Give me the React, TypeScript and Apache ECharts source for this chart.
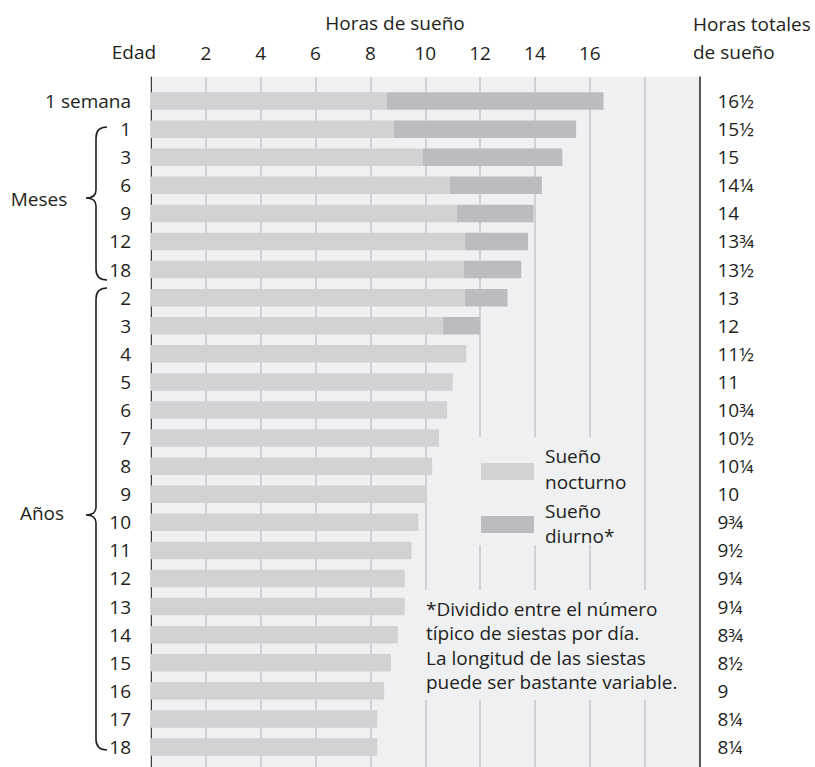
import React, { useEffect, useRef } from "react";
import * as echarts from "echarts";

const ageKeys = [
  "w1", "m1", "m3", "m6", "m9", "m12", "m18",
  "y2", "y3", "y4", "y5", "y6", "y7", "y8", "y9", "y10",
  "y11", "y12", "y13", "y14", "y15", "y16", "y17", "y18",
];
const ageLabels = [
  "1 semana", "1", "3", "6", "9", "12", "18",
  "2", "3", "4", "5", "6", "7", "8", "9", "10",
  "11", "12", "13", "14", "15", "16", "17", "18",
];
const nightHours = [
  8.6, 8.85, 9.9, 10.9, 11.15, 11.45, 11.4,
  11.45, 10.65, 11.5, 11, 10.8, 10.5, 10.25, 10, 9.75,
  9.5, 9.25, 9.25, 9, 8.75, 8.5, 8.25, 8.25,
];
const dayHours = [
  7.9, 6.65, 5.1, 3.35, 2.8, 2.3, 2.1,
  1.55, 1.35, 0, 0, 0, 0, 0, 0, 0,
  0, 0, 0, 0, 0, 0, 0, 0,
];
const totalLabels = [
  "16½", "15½", "15", "14¼", "14", "13¾", "13½",
  "13", "12", "11½", "11", "10¾", "10½", "10¼", "10", "9¾",
  "9½", "9¼", "9¼", "8¾", "8½", "9", "8¼", "8¼",
];
const hourTicks = [2, 4, 6, 8, 10, 12, 14, 16];
const footnoteLines = [
  "*Dividido entre el número",
  "típico de siestas por día.",
  "La longitud de las siestas",
  "puede ser bastante variable.",
];

const FONT = "'Open Sans', 'Noto Sans', sans-serif";
const TXT = "#231f20";
const BG = "#eff0f2";
const NIGHT = "#d1d2d4";
const DAY = "#bbbcbf";
const GRIDC = "#c9cacc";

let registered = false;
function registerBraces() {
  if (registered) return;
  registered = true;
  const meses =
    "M107,127 Q96,127 96,138 L96,190 Q96,198 86,198 Q96,198 96,206 L96,269 Q96,280 107,280";
  const anos =
    "M107,288 Q96,288 96,299 L96,507 Q96,515 86,515 Q96,515 96,523 L96,739 Q96,750 107,750";
  echarts.graphic.registerShape("braceMeses", echarts.graphic.extendPath(meses, {}));
  echarts.graphic.registerShape("braceAnos", echarts.graphic.extendPath(anos, {}));
}

export default function App() {
  const ref = useRef<HTMLDivElement>(null);
  useEffect(() => {
    if (!ref.current) return;
    registerBraces();
    const chart = echarts.init(ref.current, undefined, { renderer: "svg" });
    const txt = (text: string, x: number, y: number, align = "left", size = 19, z = 110) => ({
      type: "text",
      x,
      y,
      z,
      style: {
        text,
        fill: TXT,
        font: `${size}px ${FONT}`,
        textAlign: align,
        textVerticalAlign: "middle",
      },
    });
    const option: any = {
      animation: false,
      textStyle: { fontFamily: FONT },
      grid: [
        { left: 151, right: 115.5, top: 77, bottom: 0, show: true, backgroundColor: BG, borderWidth: 0 },
        { left: 151, right: 115.5, top: 87, bottom: 6 },
      ],
      xAxis: [
        {
          gridIndex: 0,
          type: "value",
          position: "top",
          min: 0,
          max: 20,
          interval: 2,
          axisLine: { show: false },
          axisTick: { show: false },
          axisLabel: {
            show: true,
            margin: 15,
            fontSize: 19,
            color: TXT,
            fontFamily: FONT,
            formatter: (v: number) => (hourTicks.indexOf(v) >= 0 ? String(v) : ""),
          },
          splitLine: { show: true, lineStyle: { color: GRIDC, width: 1.6 } },
        },
        { gridIndex: 1, type: "value", min: 0, max: 20, show: false },
      ],
      yAxis: [
        {
          gridIndex: 0,
          type: "value",
          position: "left",
          min: 0,
          max: 1,
          axisLine: { show: true, lineStyle: { color: "#3a3a3a", width: 1 } },
          axisTick: { show: false },
          axisLabel: { show: false },
          splitLine: { show: false },
        },
        {
          gridIndex: 0,
          type: "value",
          position: "right",
          min: 0,
          max: 1,
          axisLine: { show: true, lineStyle: { color: "#3a3a3a", width: 1.6 } },
          axisTick: { show: false },
          axisLabel: { show: false },
          splitLine: { show: false },
        },
        {
          gridIndex: 1,
          type: "category",
          inverse: true,
          data: ageKeys,
          position: "left",
          axisLine: { show: false },
          axisTick: { show: false },
          axisLabel: {
            interval: 0,
            margin: 20,
            fontSize: 19,
            color: TXT,
            fontFamily: FONT,
            formatter: (_v: string, i: number) => ageLabels[i],
          },
        },
        {
          gridIndex: 1,
          type: "category",
          inverse: true,
          data: ageKeys,
          position: "right",
          axisLine: { show: false },
          axisTick: { show: false },
          axisLabel: {
            interval: 0,
            margin: 18,
            fontSize: 19,
            color: TXT,
            fontFamily: FONT,
            formatter: (_v: string, i: number) => totalLabels[i],
          },
        },
      ],
      series: [
        {
          name: "Sueño nocturno",
          type: "bar",
          stack: "sleep",
          xAxisIndex: 1,
          yAxisIndex: 2,
          barWidth: 17.5,
          data: nightHours,
          itemStyle: { color: NIGHT },
          z: 5,
        },
        {
          name: "Sueño diurno",
          type: "bar",
          stack: "sleep",
          xAxisIndex: 1,
          yAxisIndex: 2,
          barWidth: 17.5,
          data: dayHours,
          itemStyle: { color: DAY },
          z: 5,
        },
      ],
      graphic: [
        { type: "rect", z: 100, shape: { x: 445, y: 437, width: 190, height: 108 }, style: { fill: BG } },
        { type: "rect", z: 100, shape: { x: 415, y: 590, width: 279, height: 110 }, style: { fill: BG } },
        { type: "rect", z: 105, shape: { x: 481, y: 463, width: 53, height: 17 }, style: { fill: NIGHT } },
        { type: "rect", z: 105, shape: { x: 481, y: 516, width: 53, height: 17 }, style: { fill: DAY } },
        txt("Sueño", 545, 456),
        txt("nocturno", 545, 482),
        txt("Sueño", 545, 511),
        txt("diurno*", 545, 536),
        ...footnoteLines.map((l, i) => txt(l, 426, 609 + i * 24.4)),
        txt("Horas de sueño", 395, 23, "center"),
        txt("Edad", 134, 52, "center"),
        txt("Horas totales", 693, 24),
        txt("de sueño", 693, 52),
        txt("Meses", 39, 199, "center"),
        txt("Años", 42, 513, "center"),
        {
          type: "braceMeses",
          z: 110,
          style: { fill: "none", stroke: TXT, lineWidth: 1.6 },
        },
        {
          type: "braceAnos",
          z: 110,
          style: { fill: "none", stroke: TXT, lineWidth: 1.6 },
        },
      ],
    };
    chart.setOption(option);
    return () => chart.dispose();
  }, []);
  return (
    <div
      ref={ref}
      style={{ position: "fixed", left: 0, top: 0, width: 815, height: 767, background: "#fff" }}
    />
  );
}
